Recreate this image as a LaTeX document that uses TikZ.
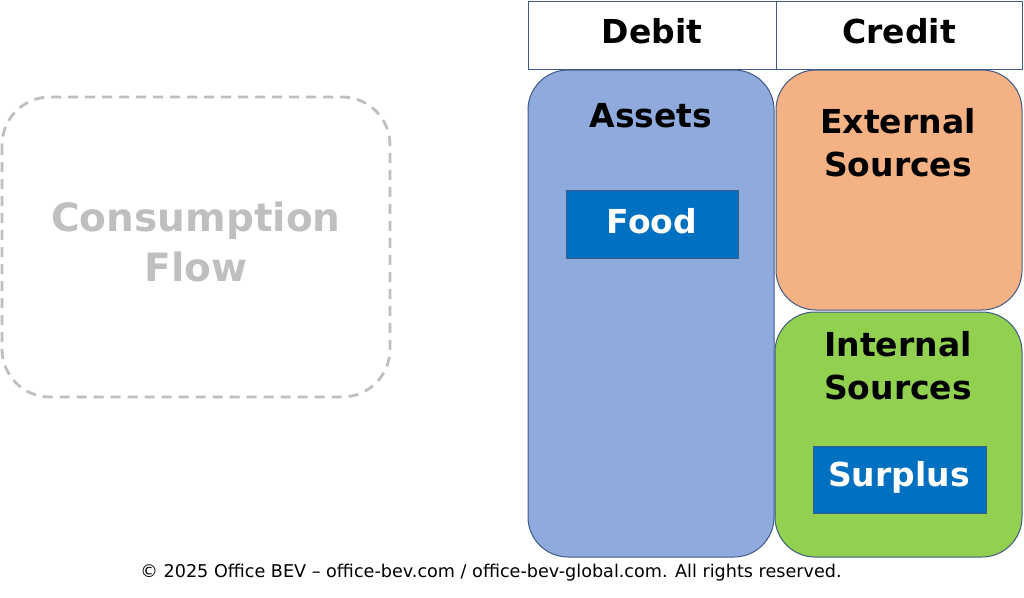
\documentclass[tikz,border=0pt]{standalone}
\usepackage{fontspec}
\setmainfont{DejaVu Sans}
\definecolor{edge}{HTML}{3F5A87}
\definecolor{assetfill}{HTML}{8FAADC}
\definecolor{extfill}{HTML}{F4B183}
\definecolor{intfill}{HTML}{92D050}
\definecolor{itemfill}{HTML}{0070C0}
\definecolor{ghost}{HTML}{BFBFBF}
\begin{document}
\begin{tikzpicture}[x=1pt,y=-1pt,
  hdr/.style={draw=edge,line width=1pt,fill=white},
  panel/.style={draw=edge,line width=1pt,rounded corners=40pt},
  item/.style={draw=edge,line width=1pt,fill=itemfill},
  big/.style={font=\fontsize{33}{43}\selectfont\bfseries,align=center,inner sep=0pt},
  itemtxt/.style={font=\fontsize{33}{43}\selectfont\bfseries,text=white,inner sep=0pt}]
\useasboundingbox (0,0) rectangle (1024,597);
% headers
\draw[hdr] (528,1) rectangle (776,69);
\draw[hdr] (776,1) rectangle (1022,69);
\node[big] (debit) at (652,31) {Debit};
\node[big] (credit) at (899,31) {Credit};
% panels
\draw[panel,fill=assetfill] (528,70) rectangle (774,557);
\draw[panel,fill=extfill] (776,70) rectangle (1022,310);
\draw[panel,fill=intfill] (775,312) rectangle (1022,557);
\node[big] (assets) at (651,116) {Assets};
\node[big] (ext) at (898,143) {External\\Sources};
\node[big] (int) at (898,366) {Internal\\Sources};
% items
\draw[item] (566,190) rectangle (738,258);
\node[itemtxt] (food) at (652,221) {Food};
\draw[item] (813,446) rectangle (986,513);
\node[itemtxt] (surplus) at (899,477) {Surplus};
% consumption flow
\draw[ghost,line width=2.8pt,dash pattern=on 10pt off 7pt,rounded corners=48pt] (2,97) rectangle (390,397);
\node[font=\fontsize{39}{50}\selectfont\bfseries,text=ghost,align=center,inner sep=0pt] (cons) at (196,242) {Consumption\\Flow};
% footer
\node[font=\fontsize{17.6}{21}\selectfont,inner sep=0pt] (copy) at (491,573) {© 2025 Office BEV – office-bev.com / office-bev-global.com. All rights reserved.};
\end{tikzpicture}
\end{document}
